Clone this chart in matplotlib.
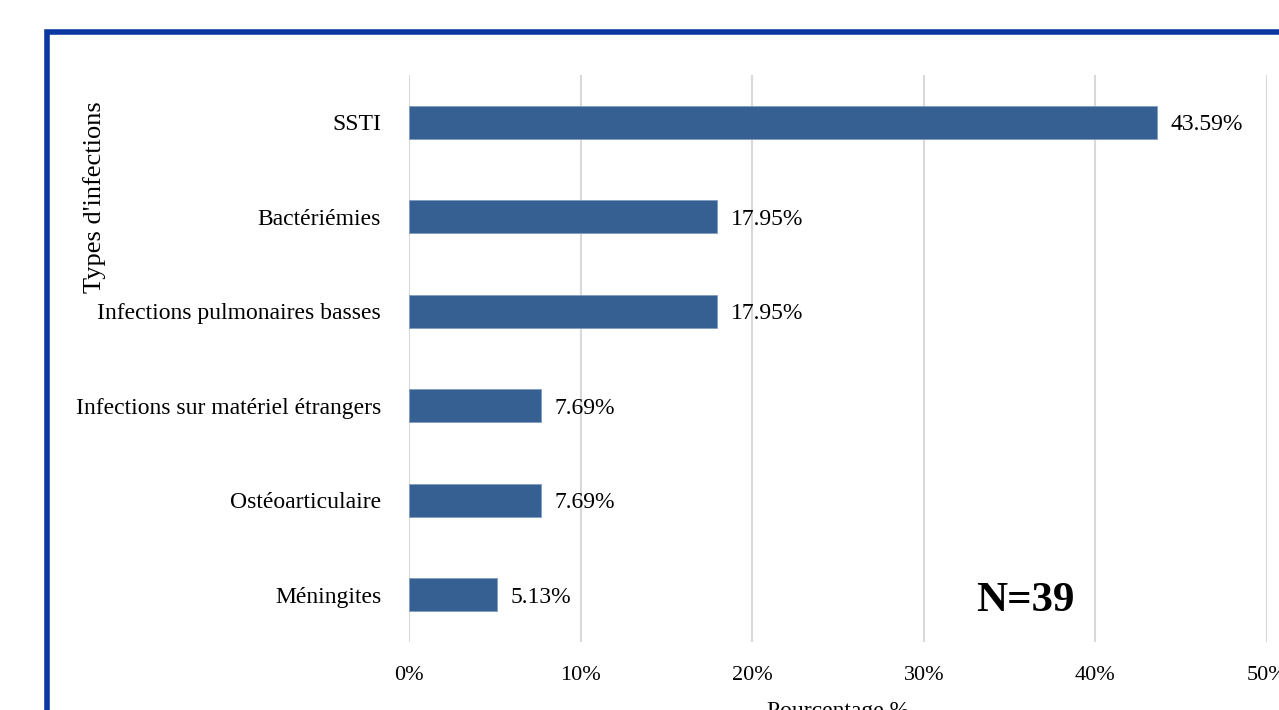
import matplotlib
matplotlib.use("Agg")
import matplotlib.pyplot as plt
from matplotlib.patches import Rectangle
from matplotlib.ticker import FuncFormatter

categories = ["SSTI", "Bactériémies", "Infections pulmonaires basses",
              "Infections sur matériel étrangers", "Ostéoarticulaire", "Méningites"]
values = [43.59, 17.95, 17.95, 7.69, 7.69, 5.13]
xticks = [0, 10, 20, 30, 40, 50]

plt.rcParams['font.family'] = ['Liberation Serif', 'DejaVu Serif']

W, H = 1279, 710
fig = plt.figure(figsize=(W / 100, H / 100), dpi=100)
fig.patch.set_facecolor('white')

ax = fig.add_axes([409 / W, 1 - 642 / H, 858 / W, 567 / H])
ypos = list(range(len(categories)))
ax.barh(ypos, values, height=0.35, color='#376092', edgecolor='#7f9cc0', linewidth=0.6, zorder=3)
ax.set_ylim(len(categories) - 0.5, -0.5)
ax.set_xlim(0, 50)
ax.set_yticks(ypos)
ax.set_yticklabels(categories, fontsize=17, va='center_baseline')
ax.set_xticks(xticks)
ax.xaxis.set_major_formatter(FuncFormatter(lambda v, p: f"{v:.0f}%"))
ax.tick_params(axis='x', labelsize=16, length=0, pad=17)
ax.tick_params(axis='y', length=0, pad=20)
for s in ax.spines.values():
    s.set_visible(False)
ax.grid(axis='x', color='#d9d9d9', linewidth=1.5, zorder=0)
ax.set_axisbelow(True)

for y, v in zip(ypos, values):
    ax.text(v + 0.8, y, f"{v:.2f}%", va='center_baseline', ha='left', fontsize=17, zorder=4)

ax.set_xlabel("Pourcentage %", fontsize=17, labelpad=12)
fig.text(95 / W, 1 - 197 / H, "Types d'infections", rotation=90, fontsize=19,
         ha='center', va='center')
ax.text(35.9, 5.02, "N=39", fontsize=31, fontweight='bold', ha='center', va='center_baseline')

frame = Rectangle((47 / W, -0.1), 1.2, 1 - 32 / H + 0.1, transform=fig.transFigure,
                  fill=False, edgecolor='#0a37a0', linewidth=4, zorder=10)
fig.patches.append(frame)

fig.savefig("out.png", dpi=100)
